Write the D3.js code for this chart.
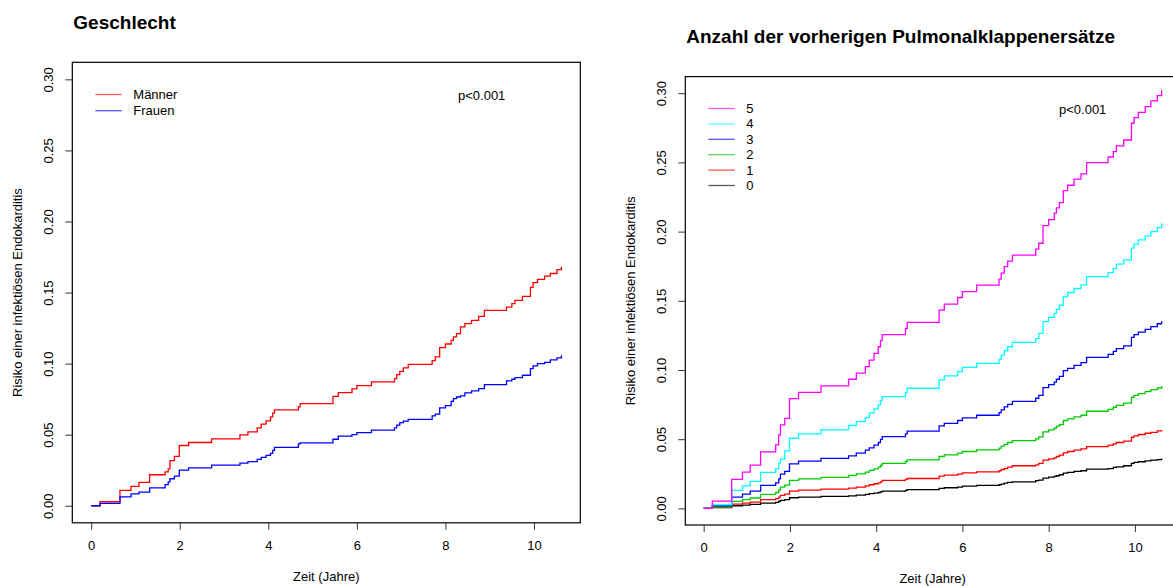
<!DOCTYPE html>
<html>
<head>
<meta charset="utf-8">
<script src="https://cdn.jsdelivr.net/npm/d3@7"></script>
<style>
  body { margin: 0; background: #fff; }
  text { font-family: "Liberation Sans", Arial, Helvetica, sans-serif; fill: #000; }
</style>
</head>
<body>
<div id="chart"></div>
<script>
// shared event times (years)
var times = [0.2, 0.65, 0.9, 1.08, 1.32, 1.67, 1.74, 1.78, 1.88, 1.99, 2.2, 2.72, 3.36, 3.54, 3.75, 3.84, 3.95, 4.05, 4.1, 4.14,
  4.68, 4.72, 5.46, 5.58, 5.89, 6.0, 6.33, 6.85, 6.9, 6.97, 7.05, 7.16, 7.7, 7.77, 7.87, 8.0, 8.13, 8.18, 8.25, 8.34,
  8.44, 8.59, 8.75, 8.88, 9.38, 9.5, 9.57, 9.74, 9.92, 9.98, 10.08, 10.24, 10.37, 10.52, 10.62];

// left panel: Geschlecht
var sexLabels = ["Männer", "Frauen"];
var maenner = [0.0028, 0.0108, 0.0136, 0.0164, 0.0218, 0.0239, 0.026, 0.0318, 0.0347, 0.0424, 0.0445, 0.047, 0.0499, 0.052, 0.0548, 0.0574, 0.0597, 0.0625, 0.0651, 0.0674,
  0.0696, 0.0719, 0.077, 0.0796, 0.0822, 0.0845, 0.0871, 0.0895, 0.0923, 0.0946, 0.097, 0.0995, 0.1021, 0.1047, 0.1112, 0.1138, 0.1164, 0.1188, 0.1211, 0.1258,
  0.1281, 0.1304, 0.1333, 0.1375, 0.1398, 0.1422, 0.1445, 0.1473, 0.1537, 0.157, 0.1592, 0.1615, 0.1634, 0.1662, 0.1681];
var frauen = [0.0016, 0.0063, 0.0084, 0.0096, 0.0126, 0.0148, 0.0168, 0.019, 0.0208, 0.0251, 0.0267, 0.0286, 0.03, 0.0311, 0.0326, 0.034, 0.0354, 0.0368, 0.039, 0.041,
  0.0436, 0.0443, 0.0468, 0.049, 0.0501, 0.0515, 0.0532, 0.0548, 0.0567, 0.0585, 0.0596, 0.0607, 0.0632, 0.0644, 0.0689, 0.0705, 0.0735, 0.0754, 0.0765, 0.0773,
  0.0794, 0.0808, 0.0824, 0.0852, 0.0878, 0.089, 0.0902, 0.0918, 0.0965, 0.0984, 0.1, 0.1009, 0.1026, 0.104, 0.1059];

// right panel: Anzahl der vorherigen Pulmonalklappenersaetze
var replLabels = ["5", "4", "3", "2", "1", "0"];
var repl5 = [0.0053, 0.0209, 0.0262, 0.0313, 0.0409, 0.0459, 0.0531, 0.0603, 0.0651, 0.0793, 0.0839, 0.0885, 0.0933, 0.0978, 0.1024, 0.1072, 0.112, 0.1168, 0.1212, 0.1255,
  0.13, 0.1344, 0.1433, 0.1476, 0.1524, 0.1567, 0.1613, 0.1656, 0.17, 0.1747, 0.1786, 0.183, 0.1873, 0.1916, 0.2043, 0.2087, 0.2133, 0.2171, 0.221, 0.2296,
  0.2335, 0.2379, 0.2417, 0.2498, 0.2539, 0.2578, 0.2619, 0.2662, 0.2783, 0.2823, 0.2862, 0.2903, 0.2944, 0.2983, 0.3023];
var repl4 = [0.0026, 0.013, 0.0163, 0.0195, 0.026, 0.0288, 0.0327, 0.0356, 0.0416, 0.0507, 0.0538, 0.0567, 0.0599, 0.0627, 0.0656, 0.0688, 0.0719, 0.0748, 0.0779, 0.0808,
  0.0837, 0.0868, 0.0928, 0.0957, 0.0988, 0.1019, 0.1048, 0.1077, 0.1108, 0.1139, 0.1168, 0.12, 0.1228, 0.1264, 0.1349, 0.138, 0.1409, 0.1438, 0.1469, 0.1529,
  0.156, 0.1589, 0.1615, 0.1675, 0.1704, 0.1733, 0.1765, 0.1796, 0.188, 0.1909, 0.194, 0.1969, 0.2, 0.2029, 0.2061];
var repl3 = [0.0019, 0.0082, 0.0103, 0.0125, 0.0166, 0.0185, 0.0214, 0.0248, 0.0267, 0.0322, 0.0341, 0.0361, 0.038, 0.0399, 0.0421, 0.0438, 0.0457, 0.0476, 0.0498, 0.0519,
  0.0538, 0.0558, 0.0596, 0.0615, 0.0635, 0.0654, 0.0673, 0.0692, 0.0712, 0.0733, 0.0752, 0.0774, 0.0796, 0.0817, 0.0873, 0.0894, 0.0913, 0.0933, 0.0954, 0.0995,
  0.1012, 0.1034, 0.1053, 0.1091, 0.1113, 0.1135, 0.1154, 0.1175, 0.1236, 0.1255, 0.1274, 0.1293, 0.1313, 0.1334, 0.1353];
var repl2 = [0.0012, 0.005, 0.0063, 0.0075, 0.0101, 0.0115, 0.0132, 0.0154, 0.0168, 0.0202, 0.0214, 0.0224, 0.0238, 0.025, 0.0262, 0.0274, 0.0286, 0.0298, 0.031, 0.0325,
  0.0339, 0.0351, 0.0375, 0.0387, 0.0399, 0.0411, 0.0423, 0.0435, 0.045, 0.0462, 0.0476, 0.049, 0.0502, 0.0517, 0.0553, 0.0567, 0.0579, 0.0594, 0.0606, 0.0635,
  0.0647, 0.0661, 0.0673, 0.0702, 0.0716, 0.0731, 0.0745, 0.076, 0.0803, 0.0817, 0.0829, 0.0844, 0.0858, 0.087, 0.0885];
var repl1 = [0.0007, 0.0031, 0.0038, 0.0046, 0.0063, 0.007, 0.0082, 0.0094, 0.0103, 0.0125, 0.0132, 0.0139, 0.0147, 0.0154, 0.0163, 0.0171, 0.0178, 0.0185, 0.0192, 0.0202,
  0.0209, 0.0216, 0.0233, 0.024, 0.0248, 0.0257, 0.0264, 0.0272, 0.0281, 0.0288, 0.0298, 0.0308, 0.0315, 0.0325, 0.0349, 0.0358, 0.0365, 0.0375, 0.0385, 0.0401,
  0.0411, 0.0421, 0.043, 0.0447, 0.0457, 0.0466, 0.0476, 0.0486, 0.0514, 0.0524, 0.0534, 0.0543, 0.055, 0.056, 0.0567];
var repl0 = [0.0005, 0.0019, 0.0024, 0.0029, 0.0038, 0.0043, 0.005, 0.0058, 0.0063, 0.0077, 0.0082, 0.0087, 0.0091, 0.0096, 0.0101, 0.0106, 0.0111, 0.0115, 0.012, 0.0125,
  0.013, 0.0135, 0.0144, 0.0149, 0.0154, 0.0161, 0.0166, 0.0171, 0.0175, 0.0183, 0.0188, 0.0192, 0.02, 0.0204, 0.0219, 0.0226, 0.0231, 0.0236, 0.0243, 0.0255,
  0.026, 0.0267, 0.0272, 0.0284, 0.0288, 0.0296, 0.03, 0.0308, 0.0325, 0.0332, 0.0337, 0.0344, 0.0349, 0.0353, 0.0361];

var xTicks = [0, 2, 4, 6, 8, 10];
var yTicks = [0, 0.05, 0.10, 0.15, 0.20, 0.25, 0.30];

var svg = d3.select("#chart").append("svg")
    .attr("width", 1173)
    .attr("height", 586);

svg.append("rect").attr("width", 1173).attr("height", 586).attr("fill", "#fff");

function drawPanel(p) {
    var x = d3.scaleLinear().domain([-0.426, 11.046]).range([p.left, p.right]);
    var y = d3.scaleLinear().domain([-0.012, 0.312]).range([p.bottom, p.top]);

    // title, left aligned with the box
    svg.append("text")
        .attr("x", p.left + 1)
        .attr("y", p.top - 40)
        .attr("dy", "0.35em")
        .style("font-size", "19px")
        .style("font-weight", "bold")
        .text(p.title);

    // curves
    var line = d3.line()
        .x(function(d) { return x(d[0]); })
        .y(function(d) { return y(d[1]); })
        .curve(d3.curveStepAfter);

    p.series.forEach(function(s) {
        var pts = [[0, 0]].concat(times.map(function(t, i) { return [t, s.values[i]]; }));
        svg.append("path")
            .datum(pts)
            .attr("fill", "none")
            .attr("stroke", s.color)
            .attr("stroke-width", 1.3)
            .attr("d", line);
    });

    // box
    svg.append("rect")
        .attr("x", p.left)
        .attr("y", p.top)
        .attr("width", p.right - p.left)
        .attr("height", p.bottom - p.top)
        .attr("fill", "none")
        .attr("stroke", "#000")
        .attr("stroke-width", 1.2);

    // x axis
    var gx = svg.append("g")
        .attr("transform", "translate(0," + p.bottom + ")")
        .call(d3.axisBottom(x).tickValues(xTicks).tickSize(7).tickPadding(11).tickSizeOuter(0));
    gx.select(".domain").remove();
    gx.selectAll("text").style("font-size", "13px").style("font-family", null);
    gx.selectAll("line").attr("stroke", "#333");

    // y axis with rotated labels
    var gy = svg.append("g")
        .attr("transform", "translate(" + p.left + ",0)")
        .call(d3.axisLeft(y).tickValues(yTicks).tickFormat(d3.format(".2f")).tickSize(7).tickSizeOuter(0));
    gy.select(".domain").remove();
    gy.selectAll("line").attr("stroke", "#333");
    gy.selectAll("text")
        .attr("x", null)
        .attr("dy", "0.35em")
        .attr("transform", "translate(-24,0) rotate(-90)")
        .attr("text-anchor", "middle")
        .style("font-size", "13px")
        .style("font-family", null);

    // axis titles
    svg.append("text")
        .attr("x", (p.left + p.right) / 2)
        .attr("y", p.bottom + 53.5)
        .attr("dy", "0.35em")
        .attr("text-anchor", "middle")
        .style("font-size", "13px")
        .text("Zeit (Jahre)");

    svg.append("text")
        .attr("transform", "translate(" + (p.left - 55) + "," + ((p.top + p.bottom) / 2) + ") rotate(-90)")
        .attr("dy", "0.35em")
        .attr("text-anchor", "middle")
        .style("font-size", "13px")
        .text("Risiko einer infektiösen Endokarditis");

    // legend
    p.legend.forEach(function(s, i) {
        var ly = p.legendTop + i * p.legendStep;
        svg.append("line")
            .attr("x1", p.left + 23).attr("x2", p.left + 49.5)
            .attr("y1", ly).attr("y2", ly)
            .attr("stroke", s.color)
            .attr("stroke-opacity", 0.65)
            .attr("stroke-width", 1.3);
        svg.append("text")
            .attr("x", p.left + 61)
            .attr("y", ly)
            .attr("dy", "0.35em")
            .style("font-size", "13px")
            .text(s.label);
    });

    // p value
    svg.append("text")
        .attr("x", p.pX)
        .attr("y", p.legendTop + 1)
        .attr("dy", "0.35em")
        .style("font-size", "13px")
        .text("p<0.001");
}

var sexSeries = [
    {label: sexLabels[0], values: maenner, color: "#FF0000"},
    {label: sexLabels[1], values: frauen, color: "#0000FF"}
];

var replColors = ["#FF00FF", "#00FFFF", "#0000FF", "#00CD00", "#FF0000", "#000000"];
var replValues = [repl5, repl4, repl3, repl2, repl1, repl0];
var replSeries = replLabels.map(function(l, i) {
    return {label: l, values: replValues[i], color: replColors[i]};
});

drawPanel({
    title: "Geschlecht",
    left: 72.3, right: 580.3, top: 62.3, bottom: 522.8,
    series: sexSeries,
    legend: sexSeries,
    legendTop: 94.5, legendStep: 16.2,
    pX: 458
});

drawPanel({
    title: "Anzahl der vorherigen Pulmonalklappenersätze",
    left: 685.3, right: 1180, top: 76.6, bottom: 525,
    series: replSeries.slice().reverse(),
    legend: replSeries,
    legendTop: 108.5, legendStep: 15.4,
    pX: 1059
});
</script>
</body>
</html>
